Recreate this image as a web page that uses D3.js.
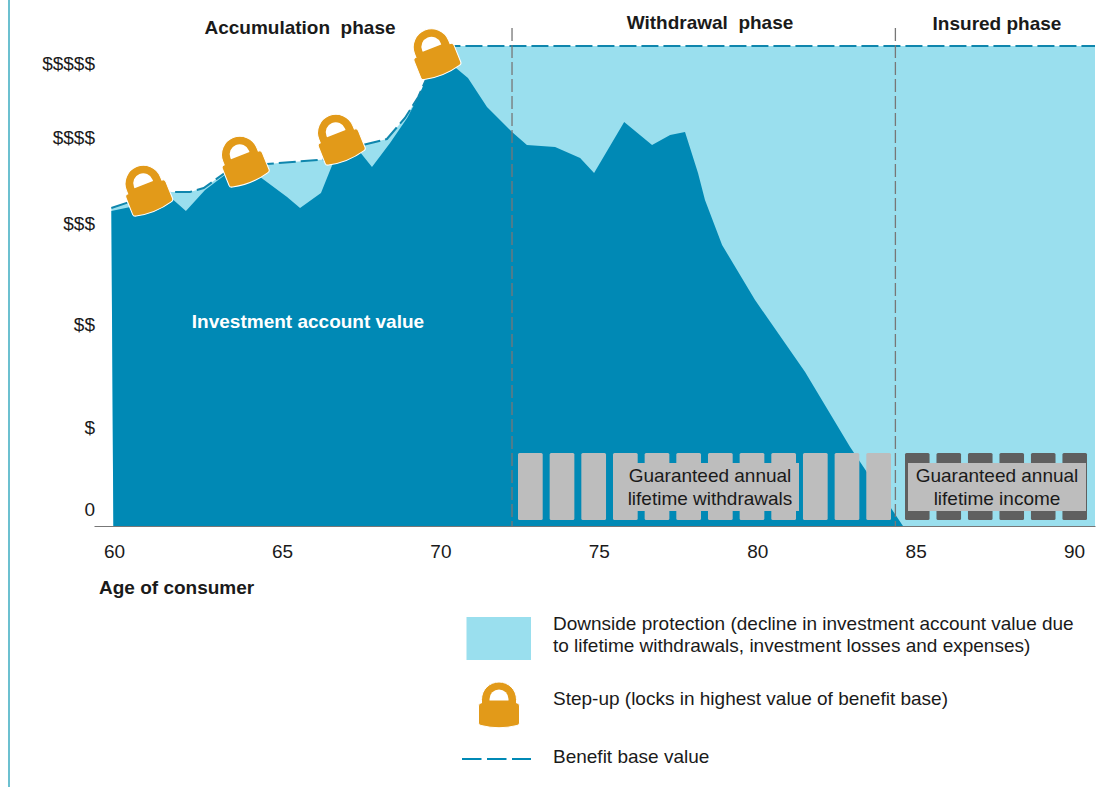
<!DOCTYPE html>
<html>
<head>
<meta charset="utf-8">
<script src="https://cdn.jsdelivr.net/npm/d3@7"></script>
<style>
  html, body { margin: 0; padding: 0; background: #fff; }
  svg { display: block; }
  text { font-family: "Liberation Sans", Arial, sans-serif; fill: #1a1a1a; white-space: pre; }
</style>
</head>
<body>
<svg width="1117" height="787"></svg>
<script>
// values. account and benefit are in px-like index units above zero
var accountAges = [59.98, 59.92, 60.77, 61.67, 62.14, 62.71, 63.30, 63.87, 64.35, 65.16, 65.57, 66.23, 66.61, 67.46, 67.84, 68.41, 68.95, 69.30, 69.58, 70.0, 70.24, 70.53, 70.87, 71.47, 72.26, 72.73, 73.62, 74.41, 74.85, 75.80, 76.68, 77.25, 77.72, 78.13, 78.35, 78.89, 79.93, 81.51, 82.93, 84.60];
var accountValues = [0, 315, 321, 329, 315, 336, 351, 358, 349, 329, 318, 333, 363, 374, 359, 383, 408, 429, 449, 464, 464, 457, 448, 419, 394, 381, 379, 368, 353, 404, 381, 391, 394, 353, 326, 281, 226, 154, 79, 0];
var benefitAges = [59.92, 60.63, 61.67, 62.26, 62.67, 63.30, 64.55, 66.52, 67.56, 68.31, 68.88, 69.30, 69.58, 70.0, 70.41, 90.66];
var benefitValues = [318, 326, 334, 334, 338, 353, 362, 367, 381, 387, 408, 429, 449, 476, 480, 480];
var xTicks = [60, 65, 70, 75, 80, 85, 90];
var yTickValues = [17, 99, 202, 303, 389, 463];
var yTickLabels = ["0", "$", "$$", "$$$", "$$$$", "$$$$$"];
var phaseNames = ["Accumulation  phase", "Withdrawal  phase", "Insured phase"];
var phaseBreaks = [72.26, 84.36];
var lockAges = [60.94, 63.81, 66.77, 69.79];
var lockValues = [337, 366, 388, 473.5];
var withdrawalYears = [73, 74, 75, 76, 77, 78, 79, 80, 81, 82, 83, 84];
var incomeYears = [85, 86, 87, 88, 89, 90];

var dark = "#0089b5", light = "#9adfee", orange = "#e29a19";

var svg = d3.select("svg");

// the printed 60-65 stretch is wider than the others, so the age scale is piecewise
var x = d3.scaleLinear().domain([59.4, 60, 65, 90.66]).range([94, 114, 282, 1095]);
var y = d3.scaleLinear().domain([0, 500]).range([526, 26]);

// frame line on the left
svg.append("line").attr("x1", 9).attr("x2", 9).attr("y1", 0).attr("y2", 787)
   .attr("stroke", "#6cc0d0").attr("stroke-width", 2);

var benefit = benefitAges.map(function(a, i) { return [a, benefitValues[i]]; });
var account = accountAges.map(function(a, i) { return [a, accountValues[i]]; });

var area = d3.area().x(function(d) { return x(d[0]); }).y0(y(0)).y1(function(d) { return y(d[1]); });
var line = d3.line().x(function(d) { return x(d[0]); }).y(function(d) { return y(d[1]); });

svg.append("path").attr("d", area([[accountAges[0], 0]].concat(benefit))).attr("fill", light);
svg.append("path").attr("d", area(account)).attr("fill", dark);
svg.append("path").attr("d", line(benefit)).attr("fill", "none")
   .attr("stroke", "#0f86ad").attr("stroke-width", 2).attr("stroke-dasharray", "17,5");

// axes
var xAxis = svg.append("g").attr("transform", "translate(0," + y(0) + ")")
   .call(d3.axisBottom(x).tickValues(xTicks).tickSize(0).tickPadding(19).tickFormat(d3.format("d")));
xAxis.select(".domain").attr("stroke", "#777").attr("stroke-width", 1);
xAxis.selectAll("text").attr("font-size", 19).style("font-family", '"Liberation Sans"');

var yAxis = svg.append("g").attr("transform", "translate(95,0)")
   .call(d3.axisLeft(y).tickValues(yTickValues).tickSize(0).tickPadding(0)
     .tickFormat(function(d, i) { return yTickLabels[i]; }));
yAxis.select(".domain").remove();
yAxis.selectAll("text").attr("font-size", 19).style("font-family", '"Liberation Sans"');

// phase dividers
svg.selectAll(".divider").data(phaseBreaks).enter().append("line").attr("class", "divider")
   .attr("x1", function(d) { return x(d); }).attr("x2", function(d) { return x(d); })
   .attr("y1", 28).attr("y2", y(0))
   .attr("stroke", "#777").attr("stroke-width", 1.3).attr("stroke-dasharray", "13,4");

// yearly payment bars
var wBand = d3.scaleBand().domain(withdrawalYears).range([518, 891]).paddingInner(0.22);
var iBand = d3.scaleBand().domain(incomeYears).range([905, 1087]).paddingInner(0.22);

svg.selectAll(".wbar").data(withdrawalYears).enter().append("rect").attr("class", "wbar")
   .attr("x", function(d) { return wBand(d); }).attr("y", 453)
   .attr("width", wBand.bandwidth()).attr("height", 67).attr("rx", 1.5).attr("fill", "#bdbdbd");
svg.selectAll(".ibar").data(incomeYears).enter().append("rect").attr("class", "ibar")
   .attr("x", function(d) { return iBand(d); }).attr("y", 453)
   .attr("width", iBand.bandwidth()).attr("height", 67).attr("rx", 1.5).attr("fill", "#5f5f5f");

svg.append("rect").attr("x", 615).attr("y", 463).attr("width", 184).attr("height", 48).attr("fill", "#bdbdbd");
svg.append("rect").attr("x", 908).attr("y", 463).attr("width", 178).attr("height", 48).attr("fill", "#bdbdbd");

// lock symbol centred on 0,0
function drawLock(sel) {
  var body = "M-17.5,-2 L-17.5,-5.5 A17.5,17.5 0 0 1 17.5,-5.5 L17.5,-2 L18,-2 Q20.5,-2 20.5,1 L20.5,18 Q20.5,20 18,20.5 Q0,25 -18,20.5 Q-20.5,20 -20.5,18 L-20.5,1 Q-20.5,-2 -18,-2 Z";
  sel.append("path").attr("d", body).attr("fill", orange).attr("stroke", "#fff").attr("stroke-width", 1);
  sel.append("path").attr("d", "M-9.5,-4.5 L-9.5,-6 A9.5,9.5 0 0 1 9.5,-6 L9.5,-4.5 Z").attr("fill", "#fff");
}
lockAges.forEach(function(a, i) {
  svg.append("g").attr("transform", "translate(" + x(a) + "," + y(lockValues[i]) + ") rotate(-22) scale(1.05)").call(drawLock);
});

// text labels
function label(tx, ty, s, size, bold, color, anchor) {
  return svg.append("text").attr("x", tx).attr("y", ty).attr("font-size", size)
    .attr("font-weight", bold ? "bold" : "normal").attr("text-anchor", anchor || "start")
    .style("fill", color || "#1a1a1a").text(s);
}
label(300, 34, phaseNames[0], 19, true, null, "middle");
label(710, 29, phaseNames[1], 19, true, null, "middle");
label(997, 30, phaseNames[2], 19, true, null, "middle");
label(308, 328, "Investment account value", 19, true, "#fff", "middle");
label(99, 594, "Age of consumer", 19, true);
label(710, 482, "Guaranteed annual", 19, false, null, "middle");
label(710, 505, "lifetime withdrawals", 19, false, null, "middle");
label(997, 482, "Guaranteed annual", 19, false, null, "middle");
label(997, 505, "lifetime income", 19, false, null, "middle");

// legend
svg.append("rect").attr("x", 466.5).attr("y", 617).attr("width", 64.5).attr("height", 43).attr("fill", light);
svg.append("g").attr("transform", "translate(499,705)").call(drawLock);
svg.append("line").attr("x1", 462).attr("x2", 531).attr("y1", 759).attr("y2", 759)
   .attr("stroke", dark).attr("stroke-width", 2).attr("stroke-dasharray", "19.5,5.5");
label(553, 630, "Downside protection (decline in investment account value due", 19);
label(553, 652, "to lifetime withdrawals, investment losses and expenses)", 19);
label(553, 705, "Step-up (locks in highest value of benefit base)", 19);
label(553, 763, "Benefit base value", 19);
</script>
</body>
</html>
